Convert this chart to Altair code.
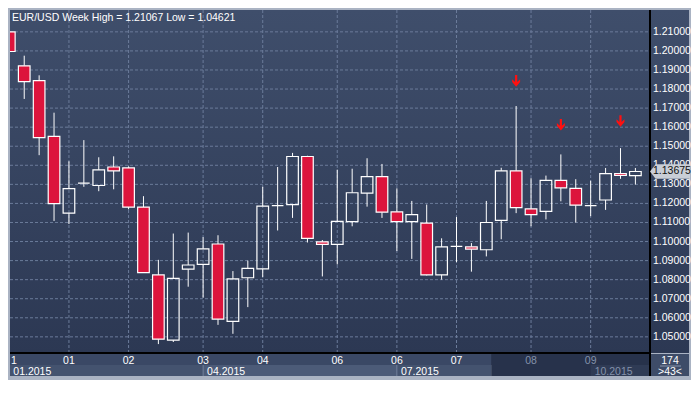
import altair as alt
import pandas as pd

# ---------------- data ----------------
opens = [1.2100, 1.1922, 1.1844, 1.1552, 1.1149, 1.1306, 1.1294, 1.1391, 1.1386, 1.1181,
         1.0825, 1.0483, 1.0855, 1.0880, 1.0987, 1.0581, 1.0810, 1.0857, 1.1188, 1.1194,
         1.1446, 1.0998, 1.0985, 1.1104, 1.1254, 1.1341, 1.1156, 1.1104, 1.1097, 1.0825,
         1.0975, 1.0972, 1.0957, 1.1111, 1.1371, 1.1171, 1.1158, 1.1321, 1.1279, 1.1188,
         1.1218, 1.1357, 1.1346]
highs = [1.21067, 1.1975, 1.1872, 1.1676, 1.1421, 1.1532, 1.1442, 1.1447, 1.1394, 1.1238,
         1.0904, 1.1042, 1.1047, 1.1023, 1.1033, 1.0845, 1.0900, 1.1287, 1.1391, 1.1465,
         1.1450, 1.1008, 1.1377, 1.1382, 1.1437, 1.1407, 1.1279, 1.1213, 1.1194, 1.1017,
         1.1129, 1.0992, 1.1213, 1.1387, 1.1711, 1.1332, 1.1346, 1.1457, 1.1327, 1.1319,
         1.1386, 1.1490, 1.1386]
lows = [1.1970, 1.1748, 1.1453, 1.1108, 1.1092, 1.1287, 1.1264, 1.1274, 1.1169, 1.0835,
        1.04621, 1.0473, 1.0763, 1.0706, 1.0563, 1.0516, 1.0656, 1.0814, 1.1058, 1.1124,
        1.0995, 1.0817, 1.0880, 1.1080, 1.1183, 1.1124, 1.0950, 1.0909, 1.0822, 1.0800,
        1.0892, 1.0842, 1.0922, 1.1012, 1.1149, 1.1080, 1.1116, 1.1211, 1.1100, 1.1133,
        1.1166, 1.1329, 1.1299]
closes = [1.1997, 1.1839, 1.1545, 1.1199, 1.1278, 1.1306, 1.1376, 1.1371, 1.1181, 1.0837,
          1.0488, 1.0807, 1.0877, 1.0962, 1.0593, 1.0804, 1.0859, 1.1186, 1.1188, 1.1446,
          1.1017, 1.0985, 1.1106, 1.1256, 1.1341, 1.1154, 1.1104, 1.1141, 1.0825, 1.0972,
          1.0975, 1.0960, 1.1100, 1.1371, 1.1178, 1.1141, 1.1321, 1.1282, 1.1191, 1.1188,
          1.1356, 1.1347, 1.13675]

month_idx = [4, 8, 13, 17, 22, 26, 30, 35, 39]
month_lbl = ["01", "02", "03", "04", "06", "06", "07", "08", "09"]
first_lbl = "1"
period_idx = [0, 13, 26, 39]
period_lbl = ["01.2015", "04.2015", "07.2015", "10.2015"]
arrow_idx = [34, 37, 41]
arrow_price = [1.1841, 1.1611, 1.1631]
price_ticks = [1.05, 1.06, 1.07, 1.08, 1.09, 1.10, 1.11, 1.12, 1.13, 1.14, 1.15,
               1.16, 1.17, 1.18, 1.19, 1.20, 1.21]
title_text = "EUR/USD Week High = 1.21067 Low = 1.04621"
last_price = "1.13675"
bars_total = "174"
bars_shown = ">43<"

# ---------------- layout ----------------
W, H = 640, 343
FONT = "Liberation Sans"
RED = "#dc143c"
xs = alt.Scale(domain=[0.046, 42.98], nice=False, zero=False)
ys = alt.Scale(domain=[1.04153, 1.22146], nice=False, zero=False)

grad = alt.LinearGradient(
    gradient="linear", x1=0, x2=0, y1=0, y2=1,
    stops=[alt.GradientStop(color="#3f4e6b", offset=0),
           alt.GradientStop(color="#2c3853", offset=1)])

n = len(opens)
df = pd.DataFrame({"i": list(range(n)), "open": opens, "high": highs,
                   "low": lows, "close": closes})
df["top"] = df[["open", "close"]].max(axis=1)
df["bot"] = df[["open", "close"]].min(axis=1)
df["xl"] = df["i"] - 0.39
df["xr"] = df["i"] + 0.39

one = pd.DataFrame({"k": [0]})


def X(f):
    return alt.X(f, type="quantitative", scale=xs, axis=None)


def Y(f):
    return alt.Y(f, type="quantitative", scale=ys, axis=None)


layers = []

# plot background and right panel
layers.append(alt.Chart(one).mark_rect(color=grad).encode(
    x=alt.value(0), x2=alt.value(W), y=alt.value(0), y2=alt.value(H)))
layers.append(alt.Chart(one).mark_rect(color=grad).encode(
    x=alt.value(W), x2=alt.value(W + 39), y=alt.value(0), y2=alt.value(H)))

# bottom strip
layers.append(alt.Chart(one).mark_rect(color="#3a4865").encode(
    x=alt.value(0), x2=alt.value(W), y=alt.value(H), y2=alt.value(H + 12)))
seg = pd.DataFrame({"a": [0.046, 13, 26], "b": [13, 26, 32.33],
                    "c": ["#44536f", "#4c5b78", "#44536f"]})
layers.append(alt.Chart(seg).mark_rect().encode(
    x=X("a"), x2="b", y=alt.value(H + 12), y2=alt.value(H + 23),
    color=alt.Color("c:N", scale=None)))
layers.append(alt.Chart(pd.DataFrame({"a": [32.33], "b": [42.98]})).mark_rect(
    color="#27324b").encode(x=X("a"), x2="b", y=alt.value(H + 1), y2=alt.value(H + 23)))
layers.append(alt.Chart(pd.DataFrame({"a": [39], "b": [42.98]})).mark_rect(
    color="#2f3b55").encode(x=X("a"), x2="b", y=alt.value(H + 12), y2=alt.value(H + 23)))
layers.append(alt.Chart(pd.DataFrame({"a": [13, 26]})).mark_rule(
    color="#6d7c98", strokeWidth=1).encode(x=X("a"), y=alt.value(H + 12), y2=alt.value(H + 23)))
# bottom-right box
layers.append(alt.Chart(one).mark_rect(color="#3e4c68").encode(
    x=alt.value(W + 1), x2=alt.value(W + 39), y=alt.value(H + 1), y2=alt.value(H + 23)))

# grid
gh = pd.DataFrame({"p": price_ticks})
layers.append(alt.Chart(gh).mark_rule(color="#6b7b9a", strokeDash=[3, 2], strokeWidth=1).encode(
    y=Y("p"), x=alt.value(0), x2=alt.value(W)))
gv = pd.DataFrame({"i": month_idx})
layers.append(alt.Chart(gv).mark_rule(color="#6b7b9a", strokeDash=[3, 2], strokeWidth=1).encode(
    x=X("i"), y=alt.value(0), y2=alt.value(H)))

# candles
layers.append(alt.Chart(df).mark_rule(color="white", strokeWidth=1, clip=True).encode(
    x=X("i"), y=Y("high"), y2="top"))
layers.append(alt.Chart(df).mark_rule(color="white", strokeWidth=1, clip=True).encode(
    x=X("i"), y=Y("bot"), y2="low"))
layers.append(alt.Chart(df).mark_rect(stroke="white", strokeWidth=1.2, clip=True).encode(
    x=X("xl"), x2="xr", y=Y("open"), y2="close",
    fill=alt.condition(alt.datum.open > alt.datum.close, alt.value(RED), alt.value("transparent"))))

# arrows
arrow_path = ("M-0.18,-1 L0.18,-1 L0.18,0.12 L0.65,-0.32 L0.65,0.12 L0,0.9 "
              "L-0.65,0.12 L-0.65,-0.32 L-0.18,0.12 Z")
ad = pd.DataFrame({"i": arrow_idx, "p": arrow_price})
layers.append(alt.Chart(ad).mark_point(shape=arrow_path, filled=True, color="#ff1010",
                                       size=150, opacity=1).encode(x=X("i"), y=Y("p")))

# title
layers.append(alt.Chart(pd.DataFrame({"t": [title_text]})).mark_text(
    align="left", baseline="alphabetic", color="white", font=FONT, fontSize=10.5).encode(
    x=alt.value(2), y=alt.value(11), text="t:N"))

# right axis labels
layers.append(alt.Chart(gh).mark_text(
    align="left", baseline="middle", color="white", font=FONT, fontSize=10.5).encode(
    y=Y("p"), x=alt.value(W + 3), text=alt.Text("p:Q", format=".5f")))

# black separators
layers.append(alt.Chart(one).mark_rule(color="black", strokeWidth=2).encode(
    x=alt.value(W), y=alt.value(0), y2=alt.value(H + 23)))
layers.append(alt.Chart(one).mark_rule(color="black", strokeWidth=2).encode(
    x=alt.value(0), x2=alt.value(W), y=alt.value(H)))

# price tag
tag_path = "M-1,0 L-0.72,-0.36 L1,-0.36 L1,0.36 L-0.72,0.36 Z"
layers.append(alt.Chart(pd.DataFrame({"p": [float(last_price)]})).mark_point(
    shape=tag_path, filled=True, color="#c9ced6", size=1600, opacity=1).encode(
    y=Y("p"), x=alt.value(W + 20)))
layers.append(alt.Chart(pd.DataFrame({"p": [float(last_price)], "t": [last_price]})).mark_text(
    align="left", baseline="middle", color="#111111", font=FONT, fontSize=10.5).encode(
    y=Y("p"), x=alt.value(W + 3), text="t:N"))

# x labels row 1
ml = pd.DataFrame({"i": month_idx, "t": month_lbl})
layers.append(alt.Chart(ml).mark_text(
    align="center", baseline="alphabetic", font=FONT, fontSize=10.5).encode(
    x=X("i"), y=alt.value(H + 11), text="t:N",
    color=alt.condition(alt.datum.i > 32, alt.value("#8391aa"), alt.value("white"))))
layers.append(alt.Chart(pd.DataFrame({"t": [first_lbl]})).mark_text(
    align="left", baseline="alphabetic", color="white", font=FONT, fontSize=10.5).encode(
    x=alt.value(1), y=alt.value(H + 11), text="t:N"))
# x labels row 2
pl = pd.DataFrame({"i": period_idx, "t": period_lbl})
layers.append(alt.Chart(pl).mark_text(
    align="left", baseline="alphabetic", font=FONT, fontSize=10.5, dx=4).encode(
    x=X("i"), y=alt.value(H + 22), text="t:N",
    color=alt.condition(alt.datum.i > 32, alt.value("#8391aa"), alt.value("white"))))

# bottom-right box texts
layers.append(alt.Chart(pd.DataFrame({"t": [bars_total]})).mark_text(
    align="center", baseline="alphabetic", color="white", font=FONT, fontSize=10.5).encode(
    x=alt.value(W + 20), y=alt.value(H + 11), text="t:N"))
layers.append(alt.Chart(one).mark_rule(color="#8a96ad", strokeWidth=1).encode(
    x=alt.value(W + 10), x2=alt.value(W + 31), y=alt.value(H + 13)))
layers.append(alt.Chart(pd.DataFrame({"t": [bars_shown]})).mark_text(
    align="center", baseline="alphabetic", color="white", font=FONT, fontSize=10.5).encode(
    x=alt.value(W + 20), y=alt.value(H + 22), text="t:N"))

chart = alt.layer(*layers).properties(
    width=W, height=H,
    autosize=alt.AutoSizeParams(type="none"),
    padding={"left": 2, "top": 2, "right": 41, "bottom": 27},
    background="#aab3c3",
).configure_view(stroke=None)

chart.save("out.html", embed_options={"renderer": "svg", "actions": False})
